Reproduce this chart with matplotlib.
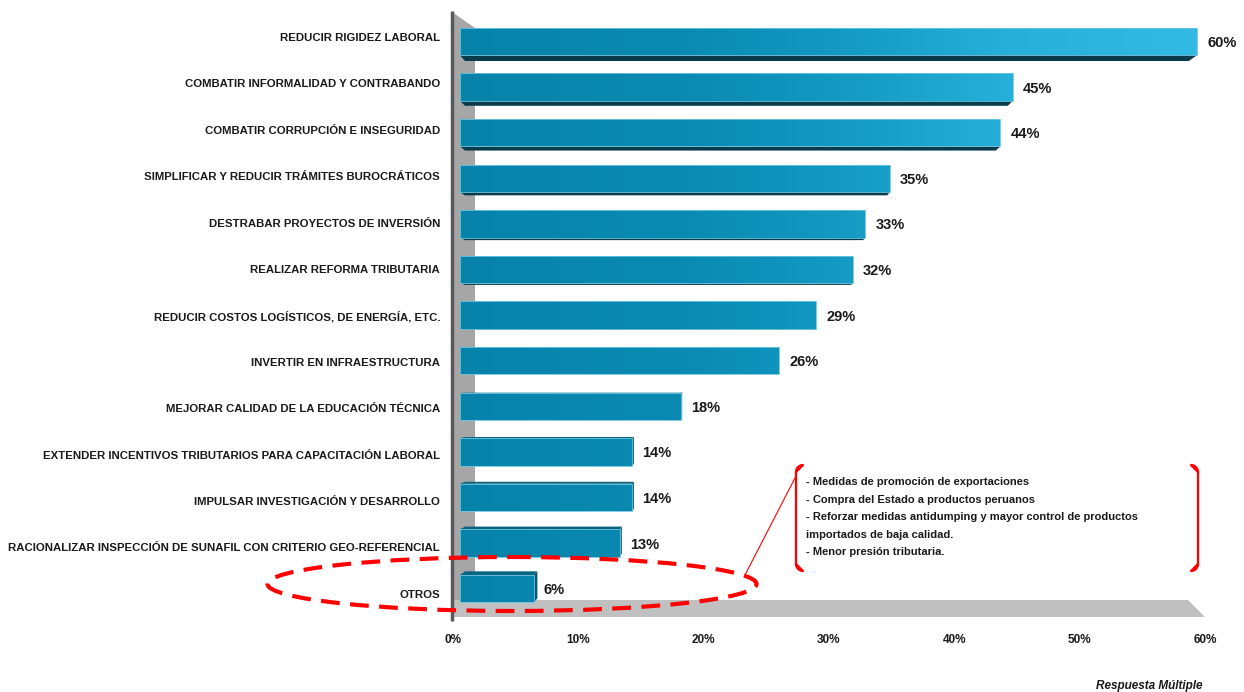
import matplotlib
matplotlib.use("Agg")
import matplotlib.pyplot as plt
import numpy as np
from matplotlib.colors import LinearSegmentedColormap
from matplotlib.patches import Polygon, Ellipse

categories = [
    "REDUCIR RIGIDEZ LABORAL",
    "COMBATIR INFORMALIDAD Y CONTRABANDO",
    "COMBATIR CORRUPCIÓN E INSEGURIDAD",
    "SIMPLIFICAR Y REDUCIR TRÁMITES BUROCRÁTICOS",
    "DESTRABAR PROYECTOS DE INVERSIÓN",
    "REALIZAR REFORMA TRIBUTARIA",
    "REDUCIR COSTOS LOGÍSTICOS, DE ENERGÍA, ETC.",
    "INVERTIR EN INFRAESTRUCTURA",
    "MEJORAR CALIDAD DE LA EDUCACIÓN TÉCNICA",
    "EXTENDER INCENTIVOS TRIBUTARIOS PARA CAPACITACIÓN LABORAL",
    "IMPULSAR INVESTIGACIÓN Y DESARROLLO",
    "RACIONALIZAR INSPECCIÓN DE SUNAFIL CON CRITERIO GEO-REFERENCIAL",
    "OTROS",
]
values = [60, 45, 44, 35, 33, 32, 29, 26, 18, 14, 14, 13, 6]
xticks = [0, 10, 20, 30, 40, 50, 60]
otros_notes = [
    "- Medidas de promoción de exportaciones",
    "- Compra del Estado a productos peruanos",
    "- Reforzar medidas antidumping y mayor control de productos",
    "importados de baja calidad.",
    "- Menor presión tributaria.",
]

plt.rcParams["font.family"] = ["Liberation Sans", "DejaVu Sans"]
TXT = "#1a1a1a"

W, H = 1244, 692
fig = plt.figure(figsize=(W / 100, H / 100), dpi=100)

# x=0 at px 460, x=60 at px 1197 ; category i at px 38 + 46.4*i
px_per_x = (1197 - 460) / 60
px_per_y = 46.4
xmin, xmax = -2, 62
ax_top, ax_bot = 10, 620
ax_left = 460 + xmin * px_per_x
ax = fig.add_axes([ax_left / W, 1 - ax_bot / H, (xmax - xmin) * px_per_x / W,
                   (ax_bot - ax_top) / H])
ax.axis("off")

def dx(px):
    return px / px_per_x

def dy(px):
    return px / px_per_y

# perspective: back faces shrink towards a vanishing point
vp = np.array([dx(739 - 460), dy(375 - 38)])
s = 0.982

def back(p):
    p = np.asarray(p, float)
    return vp + (p - vp) * s

# wall and floor
wall = [(dx(-8), dy(12 - 38)), (dx(15), dy(28 - 38)), (dx(15), dy(600 - 38)), (dx(-8), dy(617 - 38))]
ax.add_patch(Polygon(wall, closed=True, fc="#a6a6a6", ec="none", clip_on=False, zorder=0))
floor = [(dx(-8), dy(600 - 38)), (dx(1188 - 460), dy(600 - 38)),
         (dx(1205 - 460), dy(617 - 38)), (dx(-8), dy(617 - 38))]
ax.add_patch(Polygon(floor, closed=True, fc="#c0c0c0", ec="none", clip_on=False, zorder=0))
ax.plot([dx(-8), dx(-8)], [dy(11 - 38), dy(621 - 38)], color="#595959", lw=2.5,
        clip_on=False, zorder=1, solid_capstyle="butt")

cmap = LinearSegmentedColormap.from_list(
    "bars", [(0, "#0783ab"), (0.3, "#0a8ab2"), (0.5, "#1298c1"), (0.6, "#1aa2cb"),
             (0.75, "#27b0d9"), (1, "#33bae2")])
grad = np.linspace(0, 1, 256).reshape(1, -1)

bar_h = dy(27.5)
for i, (cat, v) in enumerate(zip(categories, values)):
    yc = dy(41.5 + 45.6 * i - 38)
    y0, y1 = yc - bar_h / 2, yc + bar_h / 2  # y0 top, y1 bottom (inverted axis)
    ftl, ftr, fbr, fbl = (0, y0), (v, y0), (v, y1), (0, y1)
    btl, btr, bbr, bbl = back(ftl), back(ftr), back(fbr), back(fbl)
    if yc < vp[1]:
        ax.add_patch(Polygon([fbl, fbr, bbr, bbl], fc="#0a3b4c", ec="none", zorder=2))
    else:
        ax.add_patch(Polygon([ftl, ftr, btr, btl], fc="#08637f", ec="none", zorder=2))
    if v < vp[0]:
        ax.add_patch(Polygon([ftr, btr, bbr, fbr], fc="#075a76", ec="none", zorder=2))
    front = Polygon([ftl, ftr, fbr, fbl], fc="none", ec="#6cc6e2", lw=0.6, zorder=4)
    ax.add_patch(front)
    im = ax.imshow(grad, cmap=cmap, extent=(0, 60, y1, y0), aspect="auto", zorder=3)
    im.set_clip_path(front)
    ax.text(v + dx(10), yc + dy(1.5), f"{v}%", ha="left", va="center",
            fontsize=10.5, fontweight="bold", color=TXT)
    ax.text(dx(-20), i, cat, ha="right", va="center", fontsize=8.2,
            fontweight="bold", color=TXT, clip_on=False)

ax.set_xlim(xmin, xmax)
ax.set_ylim((ax_bot - 38) / px_per_y, (ax_top - 38) / px_per_y)

# tick labels sit on the (slightly wider) floor plane
fs, fo = (1205 - 453) / 737, (453 - 460) / px_per_x
sec = ax.secondary_xaxis("bottom", functions=(lambda x: (x - fo) / fs, lambda p: p * fs + fo))
sec.set_xticks(xticks)
sec.set_xticklabels([f"{t}%" for t in xticks], fontsize=8.5, fontweight="bold", color=TXT)
sec.tick_params(length=0, pad=10)
for sp in sec.spines.values():
    sp.set_visible(False)

# dashed ellipse around OTROS
ax.add_patch(Ellipse((dx(512 - 460), dy(584 - 38)), dx(489), dy(54), fill=False,
                     ec="#ff0000", lw=3, ls=(0, (4.5, 2.5)), clip_on=False, zorder=6))
ax.plot([dx(745 - 460), dx(795 - 460)], [dy(575 - 38), dy(478 - 38)], color="#ff0000",
        lw=0.8, clip_on=False, zorder=6)

# bracket box with notes
bx0, bx1, by0, by1 = 796, 1198, 465, 571
for xa, sign in [(bx0, 1), (bx1, -1)]:
    r = 7
    t = np.linspace(0, np.pi / 2, 12)
    top_x = xa + sign * r * (1 - np.cos(t))[::-1]
    top_y = by0 + r * (1 - np.sin(t))[::-1]
    xs = np.concatenate([top_x[::-1], [xa, xa], top_x])
    ys = np.concatenate([top_y[::-1], [by0 + r, by1 - r], by1 - (top_y - by0)])
    ax.plot(dx(xs - 460), dy(ys - 38), color="#ff0000", lw=1.6, clip_on=False, zorder=6)
for k, line in enumerate(otros_notes):
    ax.text(dx(806 - 460), dy(482 + 17.5 * k - 38), line, ha="left", va="center",
            fontsize=8, fontweight="bold", color=TXT, clip_on=False)

fig.text(1202 / W, 1 - 686 / H, "Respuesta Múltiple", ha="right", va="center",
         fontsize=8.5, fontweight="bold", fontstyle="italic", color=TXT)

fig.savefig("out.png", dpi=100)
